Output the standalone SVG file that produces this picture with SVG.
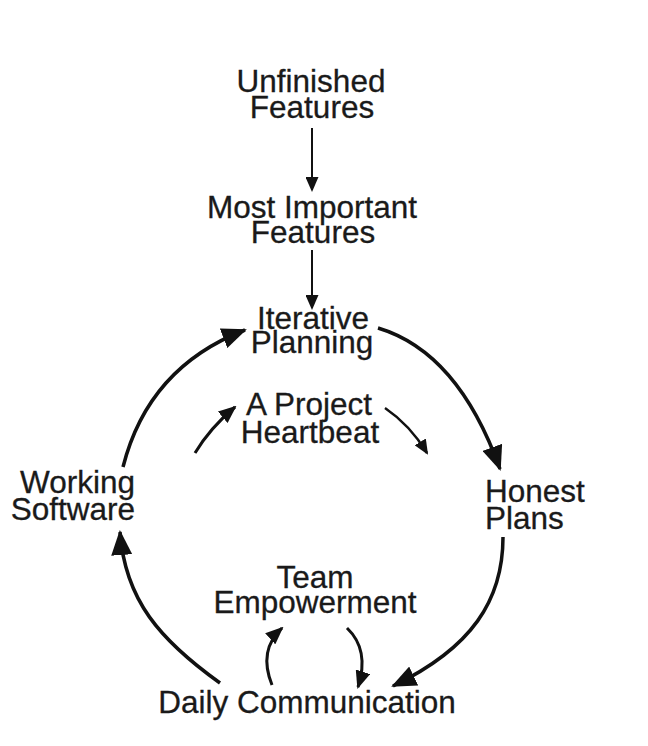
<svg xmlns="http://www.w3.org/2000/svg" width="648" height="746" viewBox="0 0 648 746">
<style>
text{font-family:"Liberation Sans",Arial,sans-serif;font-size:31.5px;fill:#1a1a1a;stroke:#1a1a1a;stroke-width:0.3}
.c{text-anchor:middle}
.main{fill:none;stroke:#111;stroke-width:3.5;marker-end:url(#big)}
.inner{fill:none;stroke:#111;stroke-width:3;marker-end:url(#mid)}
.thin{fill:none;stroke:#111;stroke-width:2.5;marker-end:url(#small)}
.vert{fill:none;stroke:#111;stroke-width:2;marker-end:url(#small)}
</style>
<defs>
<marker id="big" markerUnits="userSpaceOnUse" markerWidth="25" markerHeight="21" refX="23" refY="10.5" orient="auto"><path d="M0,0 L25,10.5 L0,21 z" fill="#111"/></marker>
<marker id="mid" markerUnits="userSpaceOnUse" markerWidth="18" markerHeight="15" refX="16" refY="7.5" orient="auto"><path d="M0,0 L18,7.5 L0,15 z" fill="#111"/></marker>
<marker id="small" markerUnits="userSpaceOnUse" markerWidth="15" markerHeight="13" refX="13" refY="6.5" orient="auto"><path d="M0,0 L15,6.5 L0,13 z" fill="#111"/></marker>
</defs>
<rect width="648" height="746" fill="#fff"/>
<g id="connectors">
<path class="vert" d="M312,128 L312,190"/>
<path class="vert" d="M312,250 L312,308"/>
<path class="main" d="M378,328 Q458,352 500,469"/>
<path class="main" d="M503,537 C503,600 472,648 393,686"/>
<path class="main" d="M220,683 C160,640 125,600 120,532"/>
<path class="main" d="M123,467 C140,400 180,355 245,330"/>
<path class="inner" d="M195,453 Q210,428 235,407"/>
<path class="thin" d="M385,408 Q410,425 427,453"/>
<path class="inner" d="M272,685 Q258,650 282,628"/>
<path class="inner" d="M347,628 Q370,650 358,687"/>
</g>
<g id="unfinished-features"><text class="c"><tspan x="311" y="92">Unfinished</tspan><tspan x="312" y="118">Features</tspan></text></g>
<g id="most-important-features"><text class="c"><tspan x="312" y="218">Most Important</tspan><tspan x="313" y="243">Features</tspan></text></g>
<g id="iterative-planning"><text class="c"><tspan x="313" y="329">Iterative</tspan><tspan x="312" y="353">Planning</tspan></text></g>
<g id="project-heartbeat"><text class="c"><tspan x="309" y="415">A Project</tspan><tspan x="310" y="443">Heartbeat</tspan></text></g>
<g id="working-software"><text text-anchor="end"><tspan x="135" y="493">Working</tspan><tspan x="135" y="520">Software</tspan></text></g>
<g id="honest-plans"><text><tspan x="485" y="502">Honest</tspan><tspan x="485" y="529">Plans</tspan></text></g>
<g id="team-empowerment"><text class="c"><tspan x="315" y="588">Team</tspan><tspan x="315" y="613">Empowerment</tspan></text></g>
<g id="daily-communication"><text class="c" x="307" y="713">Daily Communication</text></g>
</svg>
